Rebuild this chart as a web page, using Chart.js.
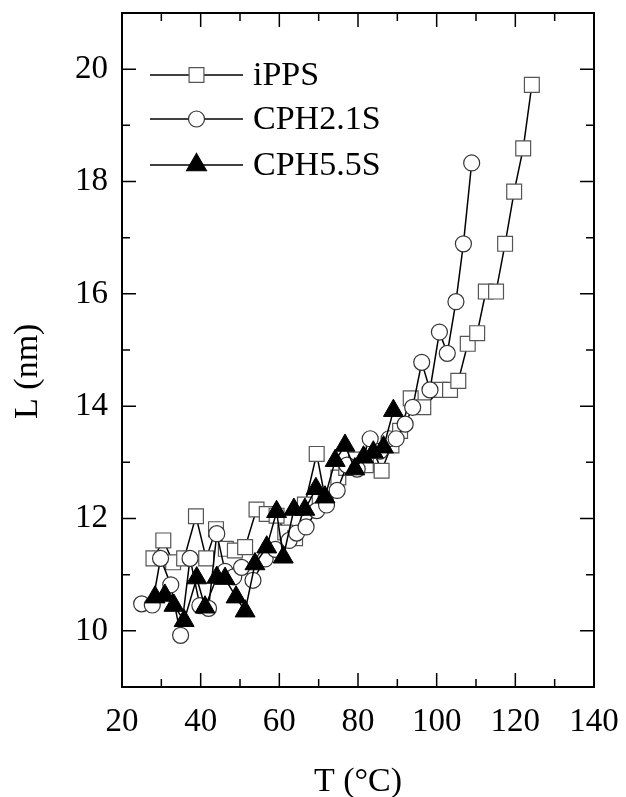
<!DOCTYPE html>
<html>
<head>
<meta charset="utf-8">
<script src="https://cdn.jsdelivr.net/npm/chart.js@4/dist/chart.umd.min.js"></script>
<style>
  html, body { margin: 0; padding: 0; background: #fff; }
  #wrap { width: 626px; height: 797px; }
</style>
</head>
<body>
<div id="wrap"><canvas id="lamellaChart"></canvas></div>
<script>
// Lamellar thickness L vs temperature T
const tIPPS = [28.0, 30.5, 33.0, 35.8, 38.8, 41.4, 43.9, 46.4, 48.7, 51.3, 54.2, 56.8, 59.3, 61.5, 64.0, 66.5, 69.5, 71.8, 75.0, 77.0, 79.5, 82.0, 84.0, 86.0, 88.5, 90.7, 93.4, 96.6, 100.9, 103.4, 105.5, 107.9, 110.3, 112.5, 115.1, 117.4, 119.7, 122.0, 124.2];
const lIPPS = [11.29, 11.61, 11.22, 11.29, 12.04, 11.29, 11.81, 11.46, 11.43, 11.49, 12.16, 12.08, 12.05, 11.75, 11.65, 12.25, 13.15, 12.30, 12.73, 12.90, 13.05, 12.95, 13.20, 12.85, 13.30, 13.56, 14.14, 13.98, 14.29, 14.29, 14.45, 15.11, 15.30, 16.04, 16.04, 16.89, 17.82, 18.59, 19.72];

const tCPH21 = [25.0, 27.7, 29.8, 32.4, 34.9, 37.3, 39.8, 42.0, 44.1, 46.2, 48.4, 50.4, 53.3, 56.4, 59.0, 62.5, 64.4, 66.8, 69.5, 72.0, 74.7, 77.2, 79.8, 83.1, 85.6, 87.9, 89.7, 92.0, 93.9, 96.2, 98.3, 100.7, 102.7, 104.9, 106.8, 108.9];
const lCPH21 = [10.48, 10.46, 11.29, 10.82, 9.92, 11.29, 10.45, 10.40, 11.73, 11.06, 10.96, 11.13, 10.90, 11.28, 11.45, 11.61, 11.74, 11.85, 12.14, 12.24, 12.50, 12.95, 12.88, 13.42, 13.20, 13.42, 13.42, 13.68, 13.98, 14.78, 14.29, 15.32, 14.94, 15.86, 16.89, 18.33];

const tCPH55 = [28.4, 30.9, 33.2, 35.8, 39.0, 41.1, 44.1, 46.2, 49.0, 51.3, 53.8, 56.8, 59.3, 61.0, 63.7, 66.5, 69.3, 71.6, 74.2, 76.7, 79.2, 81.4, 83.9, 86.5, 89.0];
const lCPH55 = [10.60, 10.63, 10.45, 10.18, 10.94, 10.42, 10.95, 10.93, 10.60, 10.35, 11.19, 11.49, 12.12, 11.31, 12.16, 12.16, 12.53, 12.38, 13.03, 13.30, 12.88, 13.09, 13.18, 13.27, 13.92];

const xTicks = [20, 40, 60, 80, 100, 120, 140];
const yTicks = [10, 12, 14, 16, 18, 20];

const serif = '"Liberation Serif", "Times New Roman", serif';

function toPoints(xs, ys) {
  return xs.map((v, i) => ({ x: v, y: ys[i] }));
}

// frame, inward ticks and the legend inside the plot
const framePlugin = {
  id: 'frame',
  afterDatasetsDraw(chart) {
    const { ctx, chartArea: a, scales: { x, y } } = chart;
    ctx.save();
    ctx.strokeStyle = '#000';
    ctx.lineWidth = 2;
    ctx.strokeRect(a.left, a.top, a.right - a.left, a.bottom - a.top);

    ctx.lineWidth = 1.5;
    ctx.beginPath();
    for (let v = 30; v < 140; v += 10) {
      const px = x.getPixelForValue(v);
      const len = v % 20 === 0 ? 14 : 8;
      ctx.moveTo(px, a.bottom); ctx.lineTo(px, a.bottom - len);
      ctx.moveTo(px, a.top); ctx.lineTo(px, a.top + len);
    }
    for (let v = 10; v <= 20; v++) {
      const py = y.getPixelForValue(v);
      const len = v % 2 === 0 ? 14 : 8;
      ctx.moveTo(a.left, py); ctx.lineTo(a.left + len, py);
      ctx.moveTo(a.right, py); ctx.lineTo(a.right - len, py);
    }
    ctx.stroke();

    // legend
    const x0 = a.left + 28, x1 = a.left + 121, xm = (x0 + x1) / 2;
    const rows = [a.top + 62, a.top + 106, a.top + 152];
    chart.data.datasets.forEach((ds, i) => {
      const ry = rows[i];
      ctx.lineWidth = 1.5;
      ctx.strokeStyle = '#000';
      ctx.beginPath();
      ctx.moveTo(x0, ry); ctx.lineTo(x1, ry);
      ctx.stroke();
      ctx.fillStyle = ds.pointBackgroundColor;
      ctx.strokeStyle = ds.pointBorderColor;
      ctx.lineWidth = 1.2;
      ctx.beginPath();
      const r = ds.pointRadius;
      if (ds.pointStyle === 'rect') {
        const s = r * Math.SQRT1_2;
        ctx.rect(xm - s, ry - s, 2 * s, 2 * s);
      } else if (ds.pointStyle === 'circle') {
        ctx.arc(xm, ry, r, 0, Math.PI * 2);
      } else {
        ctx.moveTo(xm, ry - r);
        ctx.lineTo(xm + r * 0.866, ry + r * 0.5);
        ctx.lineTo(xm - r * 0.866, ry + r * 0.5);
        ctx.closePath();
      }
      ctx.fill();
      ctx.stroke();
      ctx.fillStyle = '#000';
      ctx.font = '34px ' + serif;
      ctx.textBaseline = 'middle';
      ctx.fillText(ds.label, x1 + 10, ry + 1);
    });
    ctx.restore();
  }
};

const ctx = document.getElementById('lamellaChart').getContext('2d');

const lamellaChart = new Chart(ctx, {
  type: 'scatter',
  data: {
    datasets: [
      {
        label: 'iPPS',
        data: toPoints(tIPPS, lIPPS),
        showLine: true,
        borderColor: '#000',
        borderWidth: 1.5,
        pointStyle: 'rect',
        pointRadius: 10.5,
        pointBorderWidth: 1.2,
        pointBorderColor: '#555',
        pointBackgroundColor: '#fff',
        order: 3,
      },
      {
        label: 'CPH2.1S',
        data: toPoints(tCPH21, lCPH21),
        showLine: true,
        borderColor: '#000',
        borderWidth: 1.5,
        pointStyle: 'circle',
        pointRadius: 8,
        pointBorderWidth: 1.2,
        pointBorderColor: '#333',
        pointBackgroundColor: '#fff',
        order: 2,
      },
      {
        label: 'CPH5.5S',
        data: toPoints(tCPH55, lCPH55),
        showLine: true,
        borderColor: '#000',
        borderWidth: 1.5,
        pointStyle: 'triangle',
        pointRadius: 11.5,
        pointBorderWidth: 1,
        pointBorderColor: '#000',
        pointBackgroundColor: '#000',
        order: 1,
      },
    ],
  },
  options: {
    responsive: true,
    maintainAspectRatio: false,
    animation: false,
    layout: {
      padding: { left: 0, right: 32, top: 13, bottom: 0 },
    },
    plugins: {
      legend: { display: false },
      tooltip: { enabled: false },
    },
    scales: {
      x: {
        type: 'linear',
        min: 20,
        max: 140,
        afterBuildTicks: s => { s.ticks = xTicks.map(v => ({ value: v })); },
        afterFit: s => { s.height = 110; s.paddingLeft = 0; s.paddingRight = 0; },
        grid: { display: false, drawTicks: false },
        border: { display: false },
        ticks: {
          color: '#000',
          padding: 16,
          maxRotation: 0,
          font: { family: serif, size: 33 },
        },
        title: {
          display: true,
          text: 'T (°C)',
          color: '#000',
          padding: { top: 0, bottom: -2 },
          font: { family: serif, size: 34, lineHeight: 1 },
        },
      },
      y: {
        type: 'linear',
        min: 9,
        max: 21,
        afterBuildTicks: s => { s.ticks = yTicks.map(v => ({ value: v })); },
        afterFit: s => { s.width = 122; s.paddingTop = 0; s.paddingBottom = 0; },
        grid: { display: false, drawTicks: false },
        border: { display: false },
        ticks: {
          color: '#000',
          padding: 14,
          font: { family: serif, size: 33 },
        },
        title: {
          display: true,
          text: 'L (nm)     ',
          color: '#000',
          padding: { top: 11, bottom: 0 },
          font: { family: serif, size: 34, lineHeight: 1 },
        },
      },
    },
  },
  plugins: [framePlugin],
});
</script>
</body>
</html>
